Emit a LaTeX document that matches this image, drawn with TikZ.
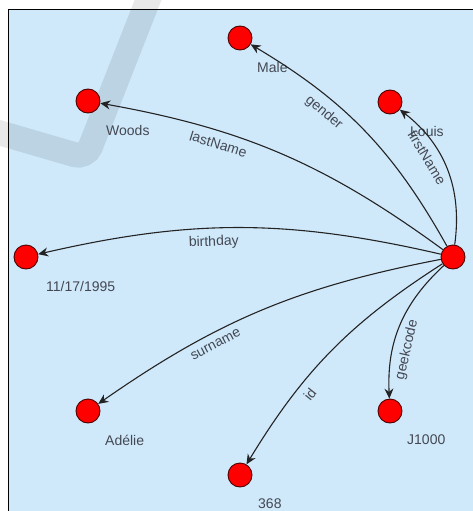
\documentclass[tikz,border=0pt]{standalone}
\usepackage{fontspec}
\setmainfont{Liberation Sans}
\usetikzlibrary{arrows.meta,positioning}

\definecolor{canvas}{RGB}{207,233,251}
\definecolor{nodered}{RGB}{255,0,0}
\definecolor{labgray}{RGB}{68,72,82}
\definecolor{edgegray}{RGB}{35,35,35}

\begin{document}
\begin{tikzpicture}[
  x=1pt,y=-1pt,
  font=\fontsize{14}{16}\selectfont,
  ent/.style={circle,draw=black!70!red,fill=nodered,line width=0.9pt,minimum size=24pt,inner sep=0pt},
  val/.style={text=labgray,inner sep=1pt,anchor=west},
  rel/.style={-{Stealth[length=10pt,width=9pt]},draw=edgegray,line width=1.1pt},
  elab/.style={sloped,below,text=labgray,inner sep=7pt}
]
\useasboundingbox (0,0) rectangle (473,511);
\fill[canvas] (8,10) rectangle (480,520);
\draw[line width=1pt] (8,520) -- (8,10) -- (480,10);
% watermark stroke behind the graph
\draw[line width=25pt,black,opacity=0.09,rounded corners=12pt] (150,-5) -- (86,158) -- (-10,130);

\node[ent] (hub) at (453,257) {};
\node[ent] (male) at (240,38) {};
\node[ent] (louis) at (390,102) {};
\node[ent] (woods) at (88,101) {};
\node[ent] (bday) at (26,257) {};
\node[ent] (adelie) at (88,411) {};
\node[ent] (num) at (240,475) {};
\node[ent] (geek) at (390,411) {};

\node[val] (maleV) at ([shift={(16,29)}]male.center) {Male};
\node[val] (louisV) at ([shift={(19,29)}]louis.center) {Louis};
\node[val] (woodsV) at ([shift={(17,29)}]woods.center) {Woods};
\node[val] (bdayV) at ([shift={(19,29)}]bday.center) {11/17/1995};
\node[val] (adelieV) at ([shift={(16,29)}]adelie.center) {Adélie};
\node[val] (numV) at ([shift={(17,29)}]num.center) {368};
\node[val] (geekV) at ([shift={(16,29)}]geek.center) {J1000};

\draw[rel] (hub) to[bend right=15] node[elab,pos=.66] (lgender) {gender} (male);
\draw[rel] (hub) to[bend right=30] node[elab,pos=.64] (lfirst) {firstName} (louis);
\draw[rel] (hub) to[bend right=13] node[elab,pos=.68] (llast) {lastName} (woods);
\draw[rel] (hub) to[bend right=13] node[elab,pos=.57] (lbirth) {birthday} (bday);
\draw[rel] (hub) to[bend right=12] node[elab,pos=.66] (lsur) {surname} (adelie);
\draw[rel] (hub) to[bend right=13] node[elab,pos=.68] (lid) {id} (num);
\draw[rel] (hub) to[bend right=25] node[elab,pos=.66] (lgeek) {geekcode} (geek);
\end{tikzpicture}
\end{document}
